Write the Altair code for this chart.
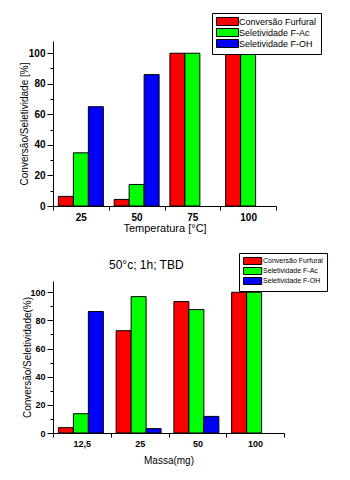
import altair as alt
import pandas as pd

series = ["Conversão Furfural", "Seletividade F-Ac", "Seletividade F-OH"]
colors = ["#FF0000", "#00FF00", "#0000FF"]

temp_labels = ["25", "50", "75", "100"]
temp_conv = [6.3, 4.3, 100, 100]
temp_fac = [34.8, 14.1, 100, 100]
temp_foh = [65, 86, None, None]

mass_labels = ["12,5", "25", "50", "100"]
mass_conv = [3.8, 72.7, 93.4, 100]
mass_fac = [13.7, 96.9, 87.7, 100]
mass_foh = [86.3, 3.1, 11.8, None]

FONT = "Liberation Sans"


def make_df(labels, a, b, c):
    rows = []
    for i, lab in enumerate(labels):
        for s, vals in zip(series, [a, b, c]):
            if vals[i] is not None:
                rows.append({"cat": lab, "serie": s, "val": vals[i]})
    return pd.DataFrame(rows)


def panel(df, labels, w, h, xtitle, ytitle, tick_fs, xtitle_fs, ytitle_fs, ytitle_pad,
          lx, ly, leg_fs, sym_size, sym_path, lab_off, row_pad, xtitle_pad, title=None):
    base = alt.Chart(df)
    bars = base.mark_bar(stroke="black", strokeWidth=1).encode(
        x=alt.X("cat:N", sort=labels,
                scale=alt.Scale(paddingInner=0, paddingOuter=0),
                axis=alt.Axis(title=xtitle, labelAngle=0, tickBand="extent",
                              tickSize=4, labelFontSize=tick_fs, labelFont=FONT,
                              labelFontWeight="bold", labelPadding=2,
                              titleFontSize=xtitle_fs, titleFont=FONT,
                              titleFontWeight="normal", titlePadding=xtitle_pad)),
        xOffset=alt.XOffset("serie:N", sort=series,
                            scale=alt.Scale(domain=series, paddingInner=0, paddingOuter=0.36)),
        y=alt.Y("val:Q", scale=alt.Scale(domain=[0, 108], nice=False, zero=True),
                axis=alt.Axis(values=[0, 20, 40, 60, 80, 100], title=ytitle,
                              orient="left", tickSize=6, labelPadding=2,
                              labelFontSize=tick_fs, labelFont=FONT,
                              labelFontWeight="bold",
                              titleFontSize=ytitle_fs, titleFont=FONT,
                              titleFontWeight="normal", titlePadding=ytitle_pad, grid=False)),
        color=alt.Color("serie:N", sort=series,
                        scale=alt.Scale(domain=series, range=colors),
                        legend=alt.Legend(title=None, orient="none", legendX=lx, legendY=ly,
                                          strokeColor="black", fillColor="white",
                                          padding=4, symbolType=sym_path, symbolSize=sym_size,
                                          symbolStrokeColor="black", symbolStrokeWidth=1,
                                          symbolOpacity=1, zindex=2,
                                          labelFontSize=leg_fs, labelFont=FONT,
                                          labelColor="black", labelOffset=lab_off,
                                          rowPadding=row_pad)),
    )
    minor = base.mark_point(opacity=0).encode(
        y=alt.Y("val:Q",
                axis=alt.Axis(values=[10, 30, 50, 70, 90], labels=False, domain=False,
                              tickSize=3, title=None, grid=False, orient="left")),
    )
    props = dict(width=w, height=h)
    if title is not None:
        props["title"] = title
    return alt.layer(bars, minor).resolve_axis(y="independent").properties(**props)


df_t = make_df(temp_labels, temp_conv, temp_fac, temp_foh)
df_m = make_df(mass_labels, mass_conv, mass_fac, mass_foh)

top = panel(df_t, temp_labels, 223, 165, "Temperatura [°C]", "Conversão/Seletividade [%]",
            10, 11, 10, -1, 159, -28, 9, 64, "M-1,-1H4.5V1H-1Z", 14, -3.5, 0)
bottom = panel(df_m, mass_labels, 231, 152, "Massa(mg)", "Conversão/Seletividade(%)",
               9, 10, 10, -3, 186, -28, 7, 49, "M-1,-1H4.2V1H-1Z", 12, -2.5, 7,
               title=alt.TitleParams("50°c; 1h; TBD", anchor="start", dx=86, fontSize=12,
                                     fontWeight="normal", font=FONT, offset=-19, color="black"))

chart = alt.vconcat(top, bottom, spacing=75, bounds="flush").resolve_scale(
    color="independent"
).resolve_legend(color="independent").properties(
    padding={"left": 19, "top": 12, "right": 5, "bottom": 5}
).configure_view(stroke=None).configure_axis(
    domainColor="black", tickColor="black", labelColor="black", titleColor="black"
)

chart.save("out.html", embed_options={"renderer": "svg", "actions": False})
